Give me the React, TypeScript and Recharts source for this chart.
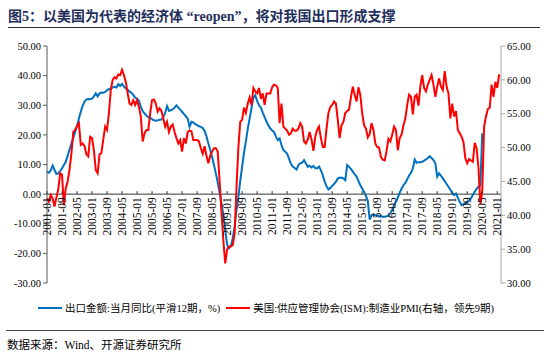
import React from "react";
import { LineChart, Line, XAxis, YAxis, ReferenceLine } from "recharts";

// 出口金额:当月同比(平滑12期, %) — left axis, monthly from 2001-01
const exportYoY = [
  7.5, 7.2, 8.0, 9.6, 8.2, 6.8, 7.0, 7.8, 8.7, 9.8,
  10.9, 13.0, 15.0, 17.0, 19.0, 21.0, 23.0, 25.5, 27.8, 29.8,
  31.2, 32.0, 32.1, 32.0, 32.2, 33.0, 34.0, 33.0, 34.0, 34.3,
  34.2, 34.5, 35.0, 35.4, 35.7, 36.0, 36.2, 36.0, 37.1, 36.5,
  37.2, 36.3, 35.7, 35.3, 34.6, 34.2, 33.5, 32.6, 32.2, 31.5,
  29.5, 28.0, 27.2, 26.5, 26.0, 25.8, 25.3, 24.9, 24.8, 24.9,
  25.1, 25.2, 26.0, 27.5, 29.7, 28.1, 28.3, 28.6, 29.2, 30.0,
  29.2, 28.5, 27.8, 27.0, 26.3, 25.5, 22.7, 24.4, 24.2, 23.6,
  23.3, 22.9, 22.7, 22.3, 21.3, 19.5, 17.1, 15.0, 12.6, 9.8,
  7.0, 4.0, 0.5, -3.0, -7.0, -12.0, -17.0, -18.2, -17.5, -15.0,
  -11.0, -5.5, -1.0, 4.5, 9.2, 14.0, 17.7, 22.0, 25.5, 29.0,
  32.5, 33.4, 31.5, 30.0, 29.2, 27.5, 26.0, 24.5, 23.2, 22.2,
  21.5, 21.0, 19.5, 18.2, 18.8, 16.5, 14.9, 14.3, 13.7, 12.0,
  10.2, 9.3, 8.8, 8.3, 9.8, 10.4, 10.6, 11.5, 10.3, 9.2,
  9.6, 9.0, 9.5, 8.8, 8.7, 9.3, 8.0, 6.4, 4.2, 2.7,
  1.6, 2.1, 2.8, 3.4, 4.2, 5.3, 5.5, 5.6, 5.3, 4.7,
  9.8, 9.2, 8.5, 7.6, 6.7, 5.9, 4.5, 3.0, 1.9, 0.8,
  -0.6, -2.2, -8.6, -7.1, -6.8, -7.1, -7.3, -7.5, -7.3, -7.7,
  -7.6, -7.5, -7.3, -6.5, -5.4, -3.8, -2.6, -1.2, 0.5, 1.8,
  3.0, 3.8, 5.0, 6.3, 7.2, 8.7, 11.7, 10.6, 10.8, 10.8,
  10.9, 11.3, 11.7, 12.2, 12.8, 12.2, 11.5, 10.4, 5.9, 7.0,
  6.2, 5.3, 4.4, 3.4, 2.5, 1.5, 0.4, -0.3, 0.2, -1.2,
  -2.6, -3.7, -3.4, -3.2, -2.8, -2.2, -1.4, -0.3, 0.8, 1.8,
  2.5, 3.0, 20.5,
];

// 美国:ISM制造业PMI(右轴, 领先9期) — right axis, monthly from 2001-01
const ismPmiLead9 = [
  42.5, 42.0, 43.0, 42.5, 41.3, 42.6, 43.8, 46.2, 46.0, 41.5,
  44.0, 45.0, 46.7, 49.1, 52.3, 52.6, 53.2, 53.6, 50.4, 50.6,
  50.2, 49.0, 48.7, 51.6, 51.4, 49.6, 46.7, 46.2, 49.0, 49.2,
  51.2, 53.1, 52.6, 55.1, 58.5, 60.0, 60.4, 60.2, 60.8, 60.7,
  61.5, 60.7, 59.7, 58.0, 56.5, 56.3, 57.0, 56.3, 57.0, 56.0,
  54.6, 50.9, 52.1, 52.6, 52.6, 55.1, 57.0, 57.1, 56.5, 55.3,
  55.8, 55.4, 54.3, 53.1, 53.8, 52.3, 53.1, 53.4, 52.3, 51.4,
  50.6, 51.1, 49.4, 51.4, 50.6, 52.3, 52.5, 52.4, 51.1, 51.1,
  51.1, 50.9, 49.9, 49.1, 50.2, 48.8, 47.7, 48.8, 49.4, 49.9,
  49.9, 49.4, 45.0, 40.5, 36.3, 32.9, 34.9, 35.4, 35.4, 35.6,
  37.3, 44.0, 50.0, 53.8, 54.1, 55.9, 55.1, 56.5, 57.4, 56.3,
  58.8, 58.3, 58.0, 58.8, 57.2, 58.0, 56.3, 58.0, 58.0, 58.0,
  58.9, 59.3, 59.2, 58.8, 53.6, 56.5, 53.1, 52.8, 52.5, 51.9,
  52.1, 52.8, 52.5, 52.5, 52.8, 53.6, 53.1, 50.9, 50.6, 51.2,
  52.3, 51.2, 49.5, 51.6, 52.6, 53.1, 51.4, 50.1, 50.1, 52.8,
  55.1, 56.0, 56.3, 56.8, 56.5, 54.1, 51.4, 53.3, 53.8, 55.1,
  55.4, 55.6, 57.4, 59.0, 57.8, 56.8, 58.9, 57.8, 55.1, 53.3,
  52.8, 51.5, 52.0, 53.6, 52.6, 50.6, 50.1, 50.0, 48.6, 48.2,
  48.1, 49.5, 51.3, 50.9, 51.9, 53.1, 52.6, 49.6, 51.4, 51.9,
  53.3, 54.3, 56.3, 57.8, 57.5, 54.9, 57.5, 57.8, 56.2, 59.0,
  60.7, 58.8, 58.3, 59.3, 60.0, 60.7, 59.3, 57.5, 59.0, 60.2,
  59.0, 58.5, 61.3, 59.0, 58.0, 54.3, 56.5, 54.6, 55.4, 52.6,
  52.1, 51.6, 50.8, 48.4, 47.7, 48.3, 48.1, 47.9, 50.7, 49.9,
  47.0, 41.7, 43.5, 53.1, 54.6, 55.7, 55.9, 59.3, 57.5, 59.7,
  58.8, 60.8,
];

const START_YEAR = 2001;
const MONTH_COUNT = 243; // 2001-01 .. 2021-03
const months = Array.from({ length: MONTH_COUNT }, (_, i) => {
  const y = START_YEAR + Math.floor(i / 12);
  const m = (i % 12) + 1;
  return `${y}-${String(m).padStart(2, "0")}`;
});

const leftTicks = [-30, -20, -10, 0, 10, 20, 30, 40, 50];
const rightTicks = [30, 35, 40, 45, 50, 55, 60, 65];

const data = months.map((month, i) => ({
  month,
  exp: i < exportYoY.length ? exportYoY[i] : null,
  pmi: i < ismPmiLead9.length ? ismPmiLead9[i] : null,
}));

const CHART_W = 550;
const CHART_H = 300;
const TOP = 46;
const PLOT_H = 237;
const ZERO_Y = TOP + (PLOT_H * (50 - 0)) / (50 - -30);

const SERIF = "'Liberation Serif', 'Times New Roman', serif";
const CJK = "'Liberation Serif', 'Noto Sans CJK SC', serif";

const XTick = (props: any) => {
  const { x, payload } = props;
  return (
    <g>
      <line x1={x} x2={x} y1={ZERO_Y - 3} y2={ZERO_Y} stroke="#333" />
      <text
        transform={`translate(${x + 4},${ZERO_Y + 3}) rotate(-90)`}
        textAnchor="end"
        fontSize={11.5}
        fontFamily={SERIF}
        fill="#000"
      >
        {payload.value}
      </text>
    </g>
  );
};

const App = () => (
  <div
    style={{
      position: "absolute",
      left: 0,
      top: 0,
      width: 550,
      height: 356,
      background: "#fff",
    }}
  >
    <div
      style={{
        position: "absolute",
        left: 8,
        top: 5,
        fontFamily: CJK,
        fontWeight: "bold",
        fontSize: 14,
        color: "#1f2f5c",
        whiteSpace: "nowrap",
      }}
    >
      图5：以美国为代表的经济体 “reopen”，将对我国出口形成支撑
    </div>
    <div style={{ position: "absolute", left: 8, top: 27, width: 532, height: 0, borderTop: "1.5px solid #333" }} />

    <div style={{ position: "absolute", left: 0, top: 0 }}>
      <LineChart width={CHART_W} height={CHART_H} data={data} margin={{ top: TOP, right: 9, bottom: 0, left: 7 }}>
        <XAxis
          dataKey="month"
          interval={7}
          axisLine={false}
          tickLine={false}
          height={17}
          tick={(p: any) => <XTick {...p} />}
        />
        <YAxis
          yAxisId="left"
          domain={[-30, 50]}
          ticks={leftTicks}
          allowDataOverflow
          width={40}
          tickSize={4}
          tickFormatter={(v: number) => v.toFixed(2)}
          tick={{ fontSize: 10.5, fill: "#000", fontFamily: SERIF }}
          axisLine={{ stroke: "#595959" }}
          tickLine={{ stroke: "#595959" }}
        />
        <YAxis
          yAxisId="right"
          orientation="right"
          domain={[30, 65]}
          ticks={rightTicks}
          allowDataOverflow
          width={40}
          tickSize={4}
          tickFormatter={(v: number) => v.toFixed(2)}
          tick={{ fontSize: 10.5, fill: "#000", fontFamily: SERIF }}
          axisLine={{ stroke: "#a6a6a6" }}
          tickLine={{ stroke: "#a6a6a6" }}
        />
        <ReferenceLine yAxisId="left" y={0} stroke="#333" strokeWidth={1} />
        <Line
          yAxisId="left"
          type="linear"
          dataKey="exp"
          stroke="#0070c0"
          strokeWidth={2}
          dot={false}
          isAnimationActive={false}
        />
        <Line
          yAxisId="right"
          type="linear"
          dataKey="pmi"
          stroke="#ff0000"
          strokeWidth={2}
          dot={false}
          isAnimationActive={false}
        />
      </LineChart>
    </div>

    <div
      style={{
        position: "absolute",
        left: 38,
        top: 300,
        display: "flex",
        alignItems: "center",
        fontFamily: CJK,
        fontSize: 10.5,
        color: "#000",
        whiteSpace: "nowrap",
      }}
    >
      <span style={{ display: "inline-block", width: 24, height: 2, background: "#0070c0", marginRight: 3 }} />
      <span>出口金额:当月同比(平滑12期，%)</span>
      <span style={{ display: "inline-block", width: 24, height: 2, background: "#ff0000", marginLeft: 6, marginRight: 3 }} />
      <span>美国:供应管理协会(ISM):制造业PMI(右轴，领先9期)</span>
    </div>

    <div style={{ position: "absolute", left: 6, top: 330, width: 538, height: 0, borderTop: "1.5px solid #404040" }} />
    <div
      style={{
        position: "absolute",
        left: 7,
        top: 336,
        fontFamily: CJK,
        fontSize: 11.5,
        color: "#000",
        whiteSpace: "nowrap",
      }}
    >
      数据来源：Wind、开源证券研究所
    </div>
  </div>
);

export default App;
